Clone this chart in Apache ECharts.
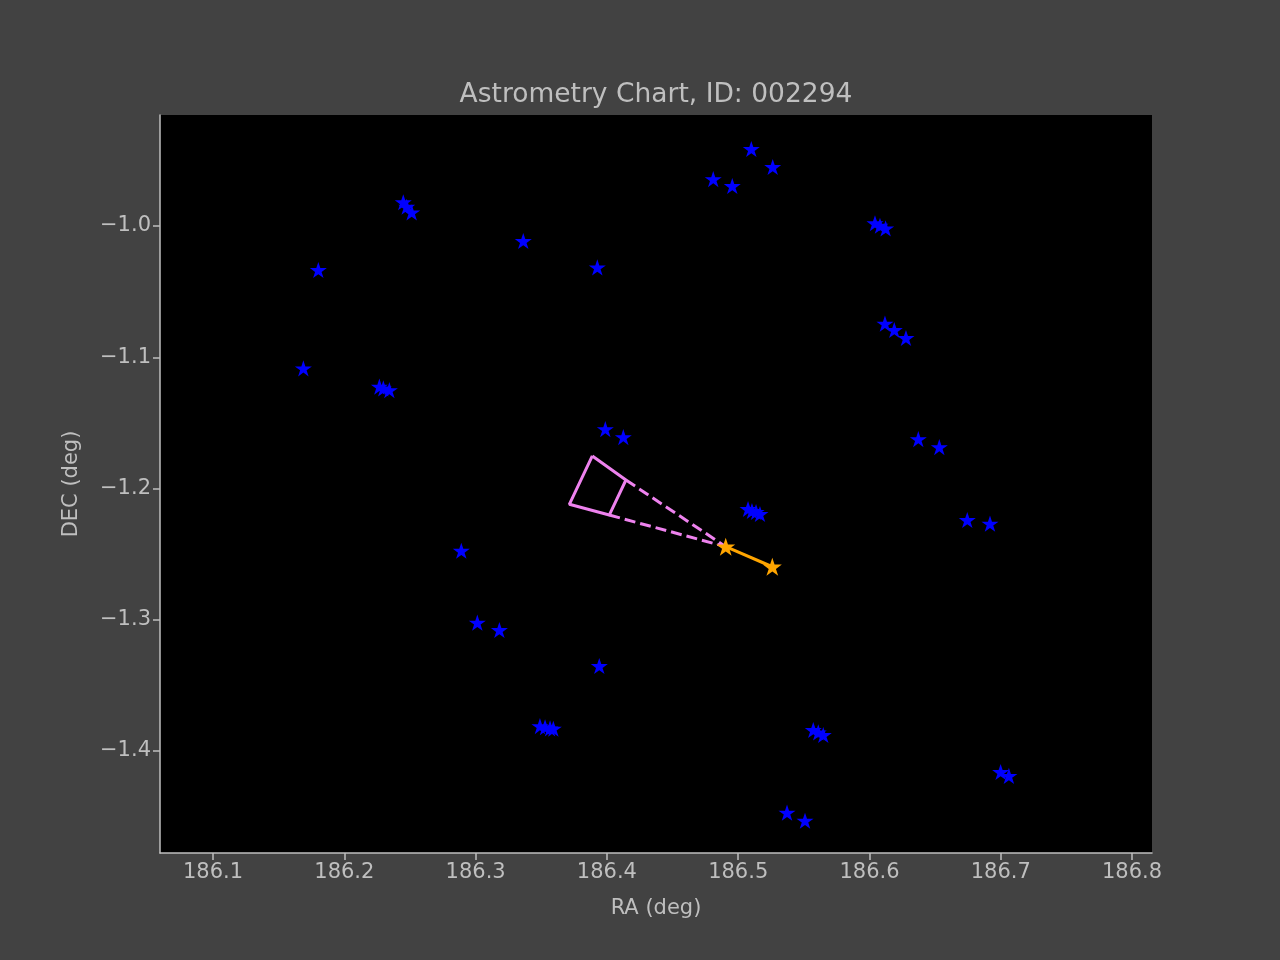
<!DOCTYPE html>
<html>
<head>
<meta charset="utf-8">
<title>Astrometry Chart</title>
<script src="https://cdn.jsdelivr.net/npm/echarts@6/dist/echarts.min.js"></script>
<style>
  html, body { margin: 0; padding: 0; background: #424242; }
  #chart { width: 1280px; height: 960px; }
</style>
</head>
<body>
<div id="chart"></div>
<script>
// catalogue stars (blue)
var starRa = [
    186.2449, 186.2475, 186.2513, 186.3363, 186.1802, 186.3927, 186.1688,
    186.2267, 186.2297, 186.2343, 186.3988, 186.4125, 186.5100, 186.5263,
    186.4810, 186.4955, 186.6042, 186.6080, 186.6123, 186.6118, 186.6189,
    186.6278, 186.6372, 186.6532, 186.5075, 186.5105, 186.5136, 186.5166,
    186.2891, 186.3013, 186.3181, 186.3942, 186.3490, 186.3529, 186.3567,
    186.3592, 186.6745, 186.6918, 186.5572, 186.5610, 186.5648, 186.6999,
    186.7062, 186.5372, 186.5509
];
var starDec = [
    -0.9819, -0.9853, -0.9896, -1.0114, -1.0335, -1.0315, -1.1084,
    -1.1224, -1.1237, -1.1250, -1.1547, -1.1608, -0.9413, -0.9550,
    -0.9642, -0.9695, -0.9979, -0.9998, -1.0018, -1.0744, -1.0792,
    -1.0853, -1.1623, -1.1684, -1.2156, -1.2171, -1.2179, -1.2194,
    -1.2474, -1.3022, -1.3078, -1.3352, -1.3810, -1.3819, -1.3827,
    -1.3830, -1.2240, -1.2268, -1.3840, -1.3858, -1.3878, -1.4160,
    -1.4190, -1.4470, -1.4531
];

// target track (orange)
var trackRa = [186.4905, 186.5260];
var trackDec = [-1.2443, -1.2596];

// field of view outline (violet)
var fovRa = [186.3889, 186.3714, 186.4018, 186.4145, 186.3889];
var fovDec = [-1.1752, -1.2120, -1.2202, -1.1935, -1.1752];
// dashed rays from the near edge to the target
var rayRa = [186.4145, 186.4905, '-', 186.4018, 186.4905];
var rayDec = [-1.1935, -1.2443, '-', -1.2202, -1.2443];

var raTicks = [186.1, 186.2, 186.3, 186.4, 186.5, 186.6, 186.7, 186.8];
var decTicks = [-1.4, -1.3, -1.2, -1.1, -1.0];

function pairs(xs, ys) {
    return xs.map(function (x, i) {
        return x === '-' ? '-' : [x, ys[i]];
    });
}

var star = 'path://M0,-100 L22.45,-30.9 L95.1,-30.9 L36.33,11.8 L58.8,80.9 L0,38.2 L-58.8,80.9 L-36.33,11.8 L-95.1,-30.9 L-22.45,-30.9 Z';
var textColor = '#bfbfbf';
var font = 'DejaVu Sans';

var chart = echarts.init(document.getElementById('chart'));
var option = {
    backgroundColor: '#424242',
    animation: false,
    textStyle: { fontFamily: font },
    title: {
        text: 'Astrometry Chart, ID: 002294',
        left: 651,
        top: 77,
        textAlign: 'center',
        textStyle: { color: textColor, fontSize: 26.5, fontWeight: 'normal', fontFamily: font }
    },
    grid: {
        left: 160,
        right: 128,
        top: 115,
        bottom: 107,
        show: true,
        backgroundColor: '#000000',
        borderWidth: 0
    },
    xAxis: {
        type: 'value',
        min: 186.0596,
        max: 186.8152,
        name: 'RA (deg)',
        nameLocation: 'middle',
        nameGap: 45,
        nameTextStyle: { color: textColor, fontSize: 21, fontFamily: font },
        splitLine: { show: false },
        axisLine: { show: true, onZero: false, lineStyle: { color: textColor, width: 1.5 } },
        axisTick: { show: true, length: 7, customValues: raTicks, lineStyle: { color: textColor, width: 1.5 } },
        axisLabel: {
            color: textColor, fontSize: 21, margin: 9, fontFamily: font,
            customValues: raTicks,
            formatter: function (v) { return v.toFixed(1); }
        }
    },
    yAxis: {
        type: 'value',
        min: -1.4777,
        max: -0.9154,
        name: 'DEC (deg)',
        nameLocation: 'middle',
        nameGap: 78,
        nameTextStyle: { color: textColor, fontSize: 21, fontFamily: font },
        splitLine: { show: false },
        axisLine: { show: true, onZero: false, lineStyle: { color: textColor, width: 1.5 } },
        axisTick: { show: true, length: 7, customValues: decTicks, lineStyle: { color: textColor, width: 1.5 } },
        axisLabel: {
            color: textColor, fontSize: 21, margin: 9, fontFamily: font,
            customValues: decTicks,
            formatter: function (v) { return v.toFixed(1).replace('-', '\u2212'); }
        }
    },
    series: [
        {
            name: 'stars',
            type: 'scatter',
            symbol: star,
            symbolKeepAspect: true,
            symbolSize: 17,
            itemStyle: { color: '#0000ff', opacity: 1 },
            data: pairs(starRa, starDec),
            z: 2
        },
        {
            name: 'fov',
            type: 'line',
            showSymbol: false,
            symbol: 'none',
            lineStyle: { color: '#ee82ee', width: 3 },
            data: pairs(fovRa, fovDec),
            z: 3
        },
        {
            name: 'rays',
            type: 'line',
            showSymbol: false,
            symbol: 'none',
            connectNulls: false,
            lineStyle: { color: '#ee82ee', width: 3, type: [11, 5] },
            data: pairs(rayRa, rayDec),
            z: 3
        },
        {
            name: 'track',
            type: 'line',
            symbol: star,
            symbolKeepAspect: true,
            symbolSize: 19,
            itemStyle: { color: '#ffa500', opacity: 1 },
            lineStyle: { color: '#ffa500', width: 3 },
            data: pairs(trackRa, trackDec),
            z: 4
        }
    ]
};
chart.setOption(option);
</script>
</body>
</html>
